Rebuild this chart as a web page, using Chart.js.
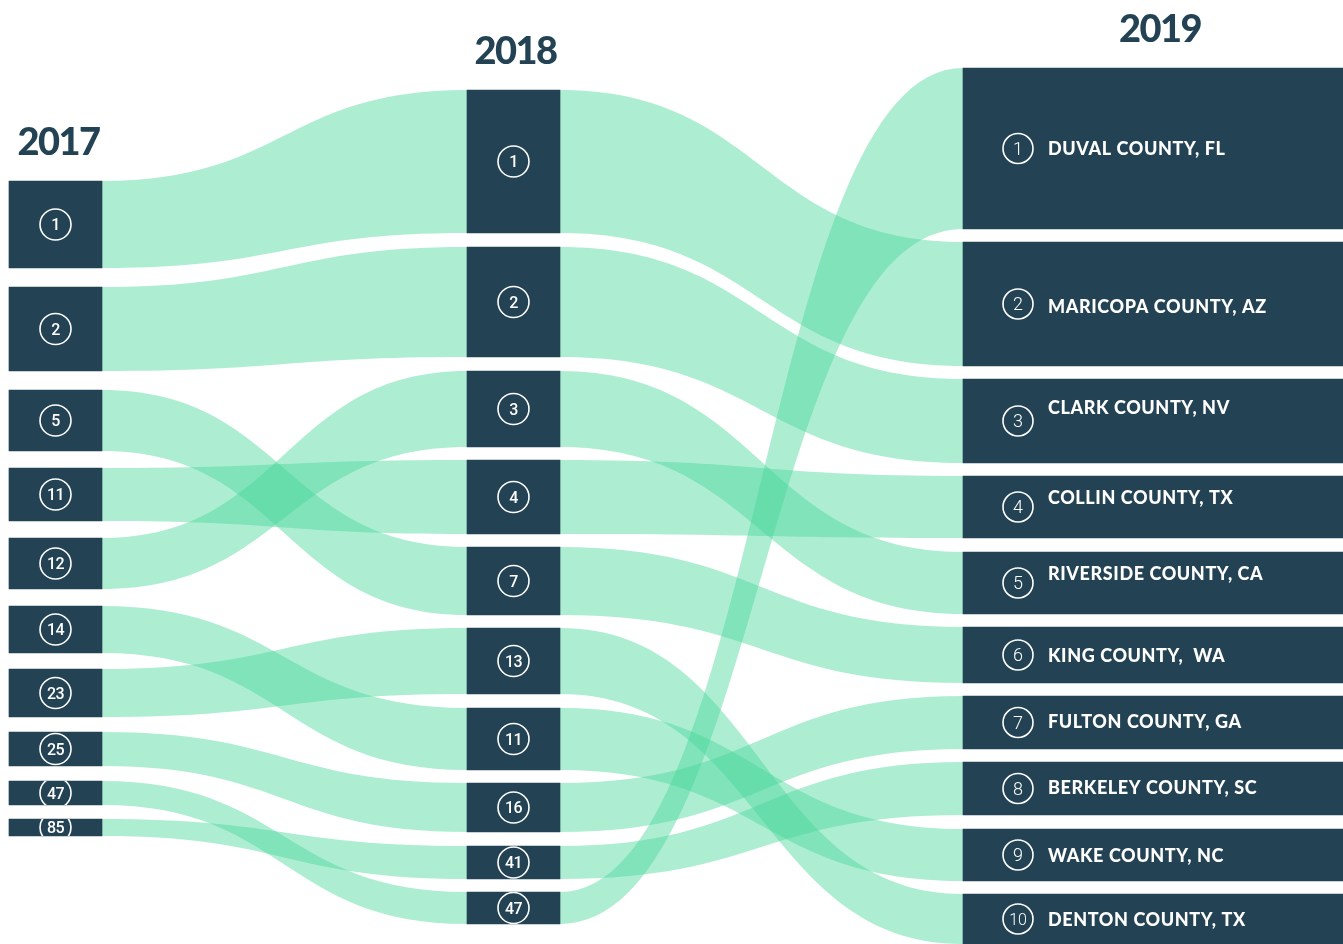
<!DOCTYPE html>
<html>
<head>
<meta charset="utf-8">
<script src="https://cdn.jsdelivr.net/npm/chart.js@4/dist/chart.umd.min.js"></script>
<style>
  html, body { margin: 0; padding: 0; background: #fff; }
  #wrap { width: 1343px; height: 944px; position: relative; }
</style>
</head>
<body>
<div id="wrap"><canvas id="chart"></canvas></div>
<script>
// ranks per year, in the vertical order they are stacked
const ranks2017 = ["1", "2", "5", "11", "12", "14", "23", "25", "47", "85"];
const ranks2018 = ["1", "2", "3", "4", "7", "13", "11", "16", "41", "47"];
const ranks2019 = ["1", "2", "3", "4", "5", "6", "7", "8", "9", "10"];

const counties2019 = [
    "DUVAL COUNTY, FL",
    "MARICOPA COUNTY, AZ",
    "CLARK COUNTY, NV",
    "COLLIN COUNTY, TX",
    "RIVERSIDE COUNTY, CA",
    "KING COUNTY,  WA",
    "FULTON COUNTY, GA",
    "BERKELEY COUNTY, SC",
    "WAKE COUNTY, NC",
    "DENTON COUNTY, TX",
];

// node extents along the value axis [start, end]
const span2017 = [[181, 268], [287, 371], [390, 451], [468, 521], [538, 589], [606, 653], [669, 717], [732, 766], [781, 805], [819, 836]];
const span2018 = [[90, 233], [247, 357], [371, 447], [460, 534], [547, 615], [628, 694], [708, 770], [783, 832], [846, 879], [892, 924]];
const span2019 = [[68, 229], [242, 366], [379, 463], [476, 538], [552, 614], [627, 683], [696, 749], [762, 815], [829, 881], [894, 944]];

// flows, by rank: [from, to]
const flows1718 = [["1", "1"], ["2", "2"], ["5", "7"], ["11", "4"], ["12", "3"], ["14", "11"], ["23", "13"], ["25", "16"], ["47", "47"], ["85", "41"]];
const flows1819 = [["1", "2"], ["2", "3"], ["3", "5"], ["4", "4"], ["7", "6"], ["13", "10"], ["11", "9"], ["16", "7"], ["41", "8"], ["47", "1"]];

const years = ["2017", "2018", "2019"];

// layout
const colCenter = [55.5, 513.5, 1153];
const colWidth = [93, 93, 380];
const labelShift = [0, 2, -14, -10, -10, 0, -1, -1, 0, 0];

const NODE = "#234354";
const FLOW = "rgba(73, 215, 155, 0.45)";

function toPoints(col, spans) {
    return spans.map((s) => ({ x: colCenter[col], y: s }));
}

function rectOf(chart, ds, i) {
    const el = chart.getDatasetMeta(ds).data[i];
    const top = Math.min(el.y, el.base);
    const bottom = Math.max(el.y, el.base);
    return { left: el.x - el.width / 2, right: el.x + el.width / 2, top, bottom, cx: el.x, cy: (top + bottom) / 2 };
}

function drawBand(ctx, a, b) {
    const xs = a.right, xt = b.left;
    const xm = (xs + xt) / 2;
    ctx.beginPath();
    ctx.moveTo(xs, a.top);
    ctx.bezierCurveTo(xm, a.top, xm, b.top, xt, b.top);
    ctx.lineTo(xt, b.bottom);
    ctx.bezierCurveTo(xm, b.bottom, xm, a.bottom, xs, a.bottom);
    ctx.closePath();
    ctx.fill();
}

const sankeyPlugin = {
    id: "sankeyLinks",
    beforeDatasetsDraw(chart) {
        const ctx = chart.ctx;
        const cols = [ranks2017, ranks2018, ranks2019];
        ctx.save();
        ctx.fillStyle = FLOW;
        [flows1718, flows1819].forEach((flows, c) => {
            flows.forEach(([from, to]) => {
                const a = rectOf(chart, c, cols[c].indexOf(from));
                const b = rectOf(chart, c + 1, cols[c + 1].indexOf(to));
                drawBand(ctx, a, b);
            });
        });
        ctx.restore();
    },
    afterDatasetsDraw(chart) {
        const ctx = chart.ctx;
        const cols = [ranks2017, ranks2018, ranks2019];
        ctx.save();

        // year headers
        ctx.fillStyle = NODE;
        ctx.font = "900 38px Lato";
        ctx.textAlign = "center";
        ctx.textBaseline = "alphabetic";
        try { ctx.letterSpacing = "-1.5px"; } catch (e) {}
        const titleShift = [3, 2, 7];
        years.forEach((y, c) => {
            const r = rectOf(chart, c, 0);
            ctx.fillText(y, r.cx + titleShift[c], r.top - 26);
        });
        try { ctx.letterSpacing = "0px"; } catch (e) {}

        // rank badges
        cols.forEach((ranks, c) => {
            ranks.forEach((rank, i) => {
                const r = rectOf(chart, c, i);
                const big = c === 2;
                const cx = big ? r.left + 55 : r.cx;
                const cy = r.cy;
                ctx.save();
                ctx.beginPath();
                ctx.rect(r.left, r.top, r.right - r.left, r.bottom - r.top);
                ctx.clip();
                ctx.beginPath();
                ctx.arc(cx, cy, big ? 15 : 15.5, 0, Math.PI * 2);
                ctx.strokeStyle = "#ffffff";
                ctx.lineWidth = 1.6;
                ctx.stroke();
                ctx.restore();

                ctx.fillStyle = "#ffffff";
                ctx.textAlign = "center";
                const fs = big ? (rank.length > 1 ? 16 : 18) : 16;
                ctx.font = (big ? "300 " : "500 ") + fs + "px Roboto";
                try { ctx.letterSpacing = big ? "0px" : "-0.5px"; } catch (e) {}
                ctx.fillText(rank, cx, cy + fs * 0.36);
                try { ctx.letterSpacing = "0px"; } catch (e) {}

                if (big) {
                    ctx.textAlign = "left";
                    ctx.font = "900 18px Lato";
                    try { ctx.letterSpacing = "0.6px"; } catch (e) {}
                    ctx.fillText(counties2019[i], r.left + 85, cy + labelShift[i] + 6.5);
                    try { ctx.letterSpacing = "0px"; } catch (e) {}
                }
            });
        });
        ctx.restore();
    },
};

const nodeDataset = (col, spans) => ({
    data: toPoints(col, spans),
    backgroundColor: NODE,
    borderWidth: 0,
    barThickness: colWidth[col],
    grouped: false,
});

new Chart(document.getElementById("chart"), {
    type: "bar",
    data: {
        datasets: [
            nodeDataset(0, span2017),
            nodeDataset(1, span2018),
            nodeDataset(2, span2019),
        ],
    },
    options: {
        responsive: true,
        maintainAspectRatio: false,
        animation: false,
        layout: { padding: 0 },
        plugins: {
            legend: { display: false },
            tooltip: { enabled: false },
        },
        scales: {
            x: { type: "linear", min: 0, max: 1343, display: false, offset: false },
            y: { type: "linear", min: 0, max: 944, reverse: true, display: false },
        },
    },
    plugins: [sankeyPlugin],
});
</script>
</body>
</html>
